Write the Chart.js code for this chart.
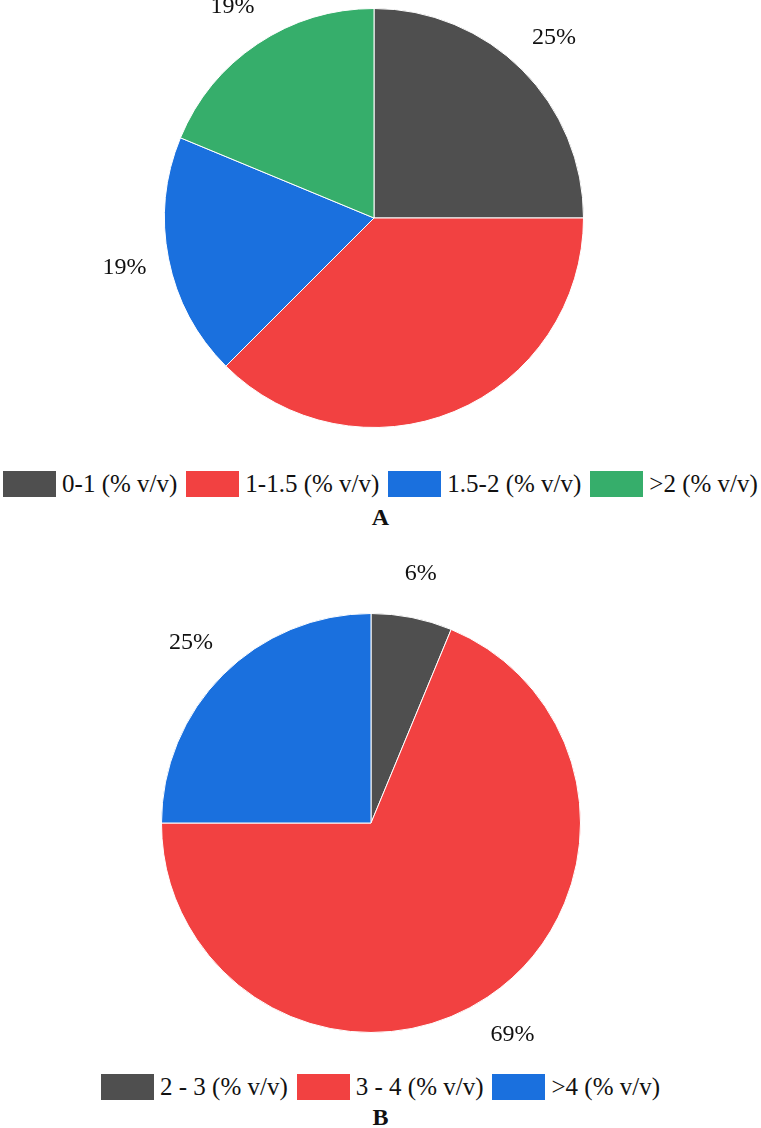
<!DOCTYPE html>
<html>
<head>
<meta charset="utf-8">
<script src="https://cdn.jsdelivr.net/npm/chart.js@4.4.1/dist/chart.umd.min.js"></script>
<style>
  html, body { margin: 0; padding: 0; background: #fff; }
  body { width: 761px; height: 1128px; position: relative; overflow: hidden; font-family: "Liberation Serif", "DejaVu Serif", serif; }
  .wrap { position: absolute; left: 0; width: 761px; }
  .legend { position: absolute; left: 0; width: 761px; height: 28px; display: flex; justify-content: center; align-items: center; font-size: 25px; color: #111; }
  .item { display: flex; align-items: center; margin: 0 4.5px; white-space: nowrap; }
  .box { width: 53px; height: 26px; margin-right: 6px; box-sizing: border-box; }
  .title { position: absolute; left: 0; width: 761px; text-align: center; font-weight: bold; font-size: 24px; line-height: 28px; color: #111; }
</style>
</head>
<body>
<div class="wrap" style="top:0;height:440px;"><canvas id="chartA"></canvas></div>
<div class="legend" id="legendA" style="top:470px;"></div>
<div class="title" style="top:503px;">A</div>
<div class="wrap" style="top:560px;height:490px;"><canvas id="chartB"></canvas></div>
<div class="legend" id="legendB" style="top:1073px;"></div>
<div class="title" style="top:1103px;">B</div>
<script>
const categoriesA = ['0-1 (% v/v)', '1-1.5 (% v/v)', '1.5-2 (% v/v)', '>2 (% v/v)'];
const valuesA = [25, 37.5, 18.75, 18.75];
const colorsA = ['#4f4f4f', '#f24141', '#1a70de', '#36ae6b'];

const categoriesB = ['2 - 3 (% v/v)', '3 - 4 (% v/v)', '>4 (% v/v)'];
const valuesB = [6.25, 68.75, 25];
const colorsB = ['#4f4f4f', '#f24141', '#1a70de'];

const outsideLabels = {
  id: 'outsideLabels',
  afterDatasetsDraw(chart) {
    const ctx = chart.ctx;
    const meta = chart.getDatasetMeta(0);
    const data = chart.data.datasets[0].data;
    ctx.save();
    ctx.font = '24px "Liberation Serif", "DejaVu Serif", serif';
    ctx.fillStyle = '#111';
    ctx.textAlign = 'center';
    ctx.textBaseline = 'middle';
    meta.data.forEach((arc, i) => {
      const p = arc.getProps(['x', 'y', 'startAngle', 'endAngle', 'outerRadius'], true);
      const mid = (p.startAngle + p.endAngle) / 2;
      const d = p.outerRadius + 45;
      ctx.fillText(Math.round(data[i]) + '%', p.x + Math.cos(mid) * d, p.y + Math.sin(mid) * d);
    });
    ctx.restore();
  }
};

function makePie(id, labels, values, colors, padding) {
  return new Chart(document.getElementById(id), {
    type: 'pie',
    data: { labels, datasets: [{ data: values, backgroundColor: colors, borderColor: '#ffffff', borderWidth: 1 }] },
    options: {
      responsive: true,
      maintainAspectRatio: false,
      animation: false,
      layout: { padding },
      plugins: { legend: { display: false }, tooltip: { enabled: false } }
    },
    plugins: [outsideLabels]
  });
}

function makeLegend(id, labels, colors) {
  const el = document.getElementById(id);
  labels.forEach((t, i) => {
    const item = document.createElement('div');
    item.className = 'item';
    const box = document.createElement('div');
    box.className = 'box';
    box.style.background = colors[i];
    const txt = document.createElement('span');
    txt.textContent = t;
    item.appendChild(box);
    item.appendChild(txt);
    el.appendChild(item);
  });
}

makePie('chartA', categoriesA, valuesA, colorsA, { top: 8, bottom: 12, left: 0, right: 13 });
makePie('chartB', categoriesB, valuesB, colorsB, { top: 53, bottom: 17, left: 0, right: 19 });
makeLegend('legendA', categoriesA, colorsA);
makeLegend('legendB', categoriesB, colorsB);
</script>
</body>
</html>
